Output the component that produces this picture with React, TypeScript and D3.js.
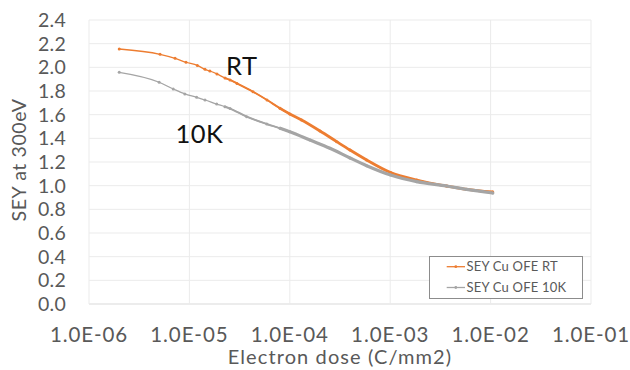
import React from "react";
import * as d3 from "d3";

const rtDose = [2.0e-6, 5.1e-6, 7.2e-6, 9.25e-6, 1.2e-5, 1.43e-5, 1.6e-5, 1.88e-5, 2.26e-5, 2.54e-5, 2.98e-5, 4.3e-5, 5.93e-5, 7.98e-5, 1.0e-4, 1.31e-4, 2.0e-4, 2.93e-4, 3.98e-4, 5.83e-4, 1.01e-3, 1.84e-3, 3.66e-3, 5.78e-3, 1.05e-2];
const rtSey = [2.155, 2.11, 2.076, 2.043, 2.016, 1.983, 1.969, 1.944, 1.91, 1.893, 1.864, 1.794, 1.724, 1.654, 1.606, 1.555, 1.462, 1.372, 1.301, 1.217, 1.111, 1.048, 0.997, 0.969, 0.947];

const k10Dose = [2.0e-6, 5.0e-6, 6.9e-6, 9.0e-6, 1.18e-5, 1.43e-5, 1.87e-5, 2.26e-5, 2.54e-5, 3.72e-5, 5.9e-5, 8.0e-5, 1.0e-4, 1.59e-4, 2.51e-4, 3.98e-4, 5.83e-4, 1.01e-3, 1.84e-3, 3.66e-3, 5.78e-3, 1.05e-2];
const k10Sey = [1.958, 1.874, 1.817, 1.775, 1.747, 1.724, 1.69, 1.667, 1.652, 1.583, 1.521, 1.485, 1.456, 1.386, 1.316, 1.234, 1.169, 1.09, 1.034, 0.997, 0.968, 0.938];

const xTicks = [1e-6, 1e-5, 1e-4, 1e-3, 1e-2, 1e-1];
const xTickLabels = ["1.0E-06", "1.0E-05", "1.0E-04", "1.0E-03", "1.0E-02", "1.0E-01"];
const yTicks = [0, 0.2, 0.4, 0.6, 0.8, 1.0, 1.2, 1.4, 1.6, 1.8, 2.0, 2.2, 2.4];
const yTickLabels = ["0.0", "0.2", "0.4", "0.6", "0.8", "1.0", "1.2", "1.4", "1.6", "1.8", "2.0", "2.2", "2.4"];

const seriesNames = ["SEY Cu OFE RT", "SEY Cu OFE 10K"];
const seriesColors = ["#ED7D31", "#A5A5A5"];

const FONT = "Lato, 'Open Sans', sans-serif";

export default function App() {
  const x = d3.scaleLog().domain([1e-6, 1e-1]).range([89, 591]);
  const y = d3.scaleLinear().domain([0, 2.4]).range([304, 20]);

  const series = [
    { name: seriesNames[0], color: seriesColors[0], pts: rtDose.map((d, i) => [d, rtSey[i]] as [number, number]) },
    { name: seriesNames[1], color: seriesColors[1], pts: k10Dose.map((d, i) => [d, k10Sey[i]] as [number, number]) },
  ];

  const line = d3
    .line<[number, number]>()
    .x((d) => x(d[0]))
    .y((d) => y(d[1]))
    .curve(d3.curveMonotoneX);

  return (
    <div style={{ position: "fixed", left: 0, top: 0 }}>
      <svg width={630} height={370} style={{ display: "block", background: "#fff" }}>
        {/* grid */}
        {yTicks.map((t, i) => (
          <line key={"gy" + i} x1={89} x2={591} y1={y(t)} y2={y(t)} stroke={i === 0 ? "#d9d9d9" : "#ebebeb"} strokeWidth={1} />
        ))}
        {xTicks.map((t, i) => (
          <line key={"gx" + i} x1={x(t)} x2={x(t)} y1={20} y2={304} stroke="#ebebeb" strokeWidth={1} />
        ))}
        {/* y tick labels */}
        {yTicks.map((t, i) => (
          <text key={"ty" + i} x={66} y={y(t)} dy="0.36em" textAnchor="end" fontFamily={FONT} fontSize={19.5} letterSpacing={0.3} fill="#595959">
            {yTickLabels[i]}
          </text>
        ))}
        {/* x tick labels */}
        {xTicks.map((t, i) => (
          <text key={"tx" + i} x={x(t)} y={342} textAnchor="middle" fontFamily={FONT} fontSize={20.5} letterSpacing={0.9} fill="#595959">
            {xTickLabels[i]}
          </text>
        ))}
        {/* axis titles */}
        <text x={340} y={364} textAnchor="middle" fontFamily={FONT} fontSize={20} letterSpacing={1.1} fill="#595959">
          Electron dose (C/mm2)
        </text>
        <text transform="translate(26,160) rotate(-90)" textAnchor="middle" fontFamily={FONT} fontSize={19.5} letterSpacing={0.6} fill="#595959">
          SEY at 300eV
        </text>
        {/* series */}
        {series.map((s, si) => {
          const mid = s.pts.filter((p) => p[0] >= 2.2e-5 && p[0] <= 1.0e-4);
          const dense = s.pts.filter((p) => p[0] >= 7.9e-5);
          return (
            <g key={"s" + si}>
              <path d={line(s.pts) || ""} fill="none" stroke={s.color} strokeWidth={1.3} />
              <path d={line(mid) || ""} fill="none" stroke={s.color} strokeWidth={1.9} strokeLinecap="round" />
              <path d={line(dense) || ""} fill="none" stroke={s.color} strokeWidth={si === 0 ? 2.8 : 3.2} strokeLinecap="round" />
              {s.pts.map((p, i) => (
                <circle key={i} cx={x(p[0])} cy={y(p[1])} r={1.5} fill={s.color} />
              ))}
            </g>
          );
        })}
        {/* annotations */}
        <text x={226} y={75} fontFamily={FONT} fontSize={25.5} letterSpacing={0.5} fill="#111">
          RT
        </text>
        <text x={175.5} y={142.7} fontFamily={FONT} fontSize={25.5} letterSpacing={0.5} fill="#111">
          10K
        </text>
        {/* legend */}
        <rect x={429.5} y={256.5} width={153} height={42} fill="#fff" stroke="#8c8c8c" strokeWidth={1} />
        {series.map((s, si) => {
          const ly = si === 0 ? 266.7 : 287.5;
          return (
            <g key={"l" + si}>
              <line x1={446.7} x2={465} y1={ly} y2={ly} stroke={s.color} strokeWidth={1.3} />
              <circle cx={455.8} cy={ly} r={1.4} fill={s.color} />
              <text x={466.5} y={ly + 4.3} fontFamily={FONT} fontSize={13} letterSpacing={0.2} fill="#595959">
                {s.name}
              </text>
            </g>
          );
        })}
      </svg>
    </div>
  );
}
